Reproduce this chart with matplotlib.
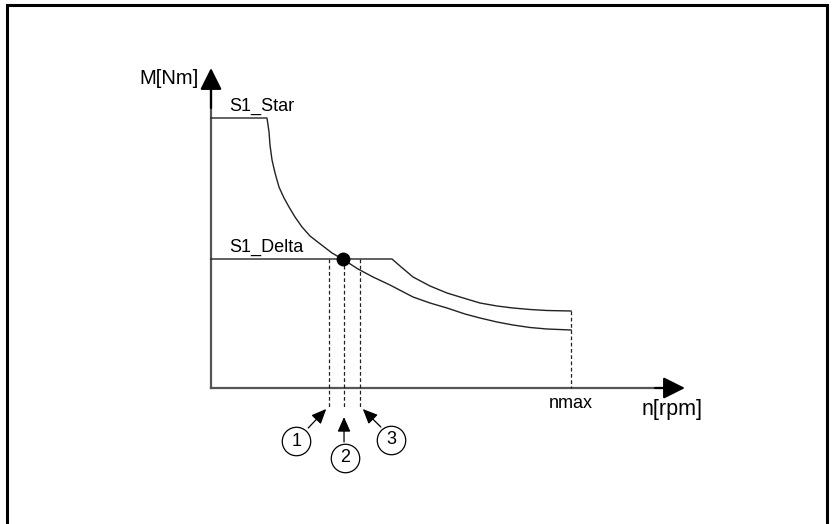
import matplotlib
matplotlib.use('Agg')
import matplotlib.pyplot as plt
from matplotlib.patches import Rectangle

plt.rcParams['font.family'] = ['Liberation Sans', 'DejaVu Sans']

# torque curves (n in rpm, M in Nm)
star_n = [0, 933, 950, 967, 983, 1017, 1067, 1133, 1217, 1300, 1400, 1517, 1650, 1800, 2017,
          2217, 2450, 2700, 2983, 3367, 3650, 3933, 4233, 4483, 4767, 5033, 5317, 5600, 6000]
star_M = [135, 135, 131.5, 128, 121.5, 114, 107.5, 100.5, 95, 90.5, 85.5, 80.5, 76, 72.5, 67.5,
          64, 59.5, 55.5, 51.5, 45.5, 42.5, 40, 37, 35, 33, 31.5, 30.25, 29.5, 29]
delta_n = [0, 3017, 3150, 3367, 3650, 3933, 4233, 4483, 4767, 5033, 5317, 5600, 6000]
delta_M = [64.5, 64.5, 61, 55.5, 51, 47.5, 44.75, 42.5, 41, 40, 39.25, 38.75, 38.5]

nmax = 6000
op_point = (2200, 64.5)
marks_n = [1967, 2217, 2483]
marks_lbl = ['1', '2', '3']
circle_pos = [(1420, -26.5), (2230, -35), (3000, -26)]
arrow_from = [(1620, -20), (2217, -27), (2830, -19.5)]
arrow_to = [(1920, -10.5), (2217, -14.5), (2530, -10.5)]

fig = plt.figure(figsize=(8.33, 5.24), dpi=100)
ax = fig.add_axes([0, 0, 1, 1])
ax.set_xlim(-3517, 10367)
ax.set_ylim(-68, 194)
ax.axis('off')

# frame around the picture
fig.patches.append(Rectangle((7 / 833, -0.1), 820 / 833, 1.09, transform=fig.transFigure,
                             fill=False, edgecolor='black', linewidth=2.2))

# axes with arrows
axc = '#555555'
ax.plot([0, 0], [0, 150], color=axc, lw=1.6)
ax.plot([0, 7500], [0, 0], color=axc, lw=1.6)
head = '-|>,head_length=0.6,head_width=0.3'
ax.annotate('', xy=(0, 160), xytext=(0, 140),
            arrowprops=dict(arrowstyle=head, mutation_scale=22,
                            color='black', lw=1.6, shrinkA=0, shrinkB=0))
ax.annotate('', xy=(7900, 0), xytext=(7400, 0),
            arrowprops=dict(arrowstyle=head, mutation_scale=22,
                            color='black', lw=1.6, shrinkA=0, shrinkB=0))

# curves
ax.plot(star_n, star_M, color='#222222', lw=1.0)
ax.plot(delta_n, delta_M, color='#222222', lw=1.0)

# dashed lines
for n in marks_n:
    ax.plot([n, n], [op_point[1], -10], color='#222222', lw=0.9, ls=(0, (3, 2)))
ax.plot([nmax, nmax], [delta_M[-1], 0], color='#222222', lw=0.9, ls=(0, (3, 2)))

ax.plot(*op_point, 'o', color='black', ms=9)

# numbered markers
for (cx, cy), (fx, fy), (tx, ty), t in zip(circle_pos, arrow_from, arrow_to, marks_lbl):
    ax.annotate('', xy=(tx, ty), xytext=(fx, fy),
                arrowprops=dict(arrowstyle='-|>,head_length=0.5,head_width=0.22', mutation_scale=18,
                                color='black', lw=0.9, shrinkA=0, shrinkB=0))
    ax.plot(cx, cy, 'o', ms=20.5, mfc='white', mec='black', mew=0.9)
    ax.text(cx, cy, t, ha='center', va='center', fontsize=13)

ax.text(300, 136.5, 'S1_Star', ha='left', va='bottom', fontsize=13)
ax.text(300, 66, 'S1_Delta', ha='left', va='bottom', fontsize=13)
ax.text(nmax, -8, 'nmax', ha='center', va='center', fontsize=13)
ax.text(7683, -11, 'n[rpm]', ha='center', va='center', fontsize=15.5)
ax.text(-200, 155, 'M[Nm]', ha='right', va='center', fontsize=14.5)

fig.savefig('out.png', dpi=100)
